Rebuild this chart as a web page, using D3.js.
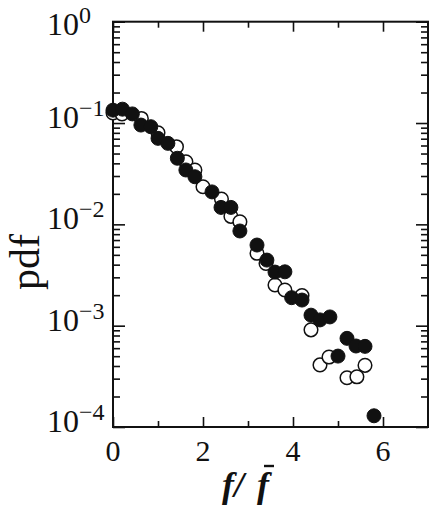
<!DOCTYPE html>
<html>
<head>
<meta charset="utf-8">
<script src="https://cdn.jsdelivr.net/npm/d3@7"></script>
<style>
  body { margin: 0; background: #fff; }
  svg { display: block; }
  .serif { font-family: "Liberation Serif", "DejaVu Serif", serif; fill: #111; }
  .tick line { stroke: #111; stroke-width: 1.6; }
</style>
</head>
<body>
<svg width="438" height="509"></svg>
<script>
// open circles
const openX = [0, 0.2, 0.63, 1.0, 1.41, 1.62, 1.82, 2.0, 2.41, 2.62, 2.82, 3.2, 3.4, 3.6, 3.82, 4.2, 4.4, 4.6, 4.8, 5.2, 5.42, 5.6];
const openY = [0.126, 0.123, 0.111, 0.080, 0.0584, 0.0415, 0.0344, 0.0235, 0.0178, 0.0120, 0.0106, 0.00518, 0.00412, 0.00252, 0.00225, 0.00198, 0.00091, 0.00041, 0.00049, 0.000306, 0.000313, 0.000406];
// filled circles
const fillX = [0, 0.21, 0.43, 0.62, 0.84, 1.0, 1.22, 1.43, 1.62, 1.82, 2.2, 2.4, 2.62, 2.82, 3.2, 3.42, 3.6, 3.82, 3.97, 4.2, 4.4, 4.6, 4.82, 5.0, 5.2, 5.4, 5.6, 5.8];
const fillY = [0.134, 0.137, 0.123, 0.0955, 0.092, 0.0706, 0.063, 0.0449, 0.0344, 0.0295, 0.0209, 0.0147, 0.0147, 0.0086, 0.00625, 0.00444, 0.00338, 0.0034, 0.00189, 0.00179, 0.00127, 0.00114, 0.00122, 0.000501, 0.00075, 0.00063, 0.000625, 0.000129];

const xMajor = [0, 2, 4, 6];
const xMinor = [1, 3, 5];
const yMajor = [1, 0.1, 0.01, 0.001, 0.0001];
const yExp = ["0", "\u22121", "\u22122", "\u22123", "\u22124"];

const svg = d3.select("svg"),
  pLeft = 113, pRight = 428, pTop = 21.7, pBottom = 427;

const x = d3.scaleLinear().domain([0, 7]).range([pLeft, pRight]);
const y = d3.scaleLog().domain([1e-4, 1]).range([pBottom, pTop]);

const yMinor = [];
yMajor.slice(1).forEach(d => { for (let k = 2; k <= 9; k++) yMinor.push(d * k); });

// ticks, all pointing inward
svg.append("g").attr("transform", `translate(0,${pBottom})`)
  .call(d3.axisBottom(x).tickValues(xMajor).tickSize(-10).tickFormat(""));
svg.append("g").attr("transform", `translate(0,${pBottom})`)
  .call(d3.axisBottom(x).tickValues(xMinor).tickSize(-6).tickFormat(""));
svg.append("g").attr("transform", `translate(0,${pTop})`)
  .call(d3.axisTop(x).tickValues(xMajor).tickSize(-10).tickFormat(""));
svg.append("g").attr("transform", `translate(0,${pTop})`)
  .call(d3.axisTop(x).tickValues(xMinor).tickSize(-6).tickFormat(""));
svg.append("g").attr("transform", `translate(${pLeft},0)`)
  .call(d3.axisLeft(y).tickValues(yMajor).tickSize(-12).tickFormat(""));
svg.append("g").attr("transform", `translate(${pLeft},0)`)
  .call(d3.axisLeft(y).tickValues(yMinor).tickSize(-7).tickFormat(""));
svg.append("g").attr("transform", `translate(${pRight},0)`)
  .call(d3.axisRight(y).tickValues(yMajor).tickSize(-12).tickFormat(""));
svg.append("g").attr("transform", `translate(${pRight},0)`)
  .call(d3.axisRight(y).tickValues(yMinor).tickSize(-7).tickFormat(""));
svg.selectAll(".domain").remove();

// frame
svg.append("rect")
  .attr("x", pLeft).attr("y", pTop)
  .attr("width", pRight - pLeft).attr("height", pBottom - pTop)
  .attr("fill", "none").attr("stroke", "#111").attr("stroke-width", 2);

// tick labels
svg.selectAll(".xlab").data(xMajor).join("text")
  .attr("class", "serif")
  .attr("x", d => x(d)).attr("y", pBottom + 34)
  .attr("text-anchor", "middle").attr("font-size", 30)
  .text(d => d);

const ylab = svg.selectAll(".ylab").data(yMajor).join("text")
  .attr("class", "serif")
  .attr("x", 47).attr("y", d => y(d) + (d === 1 ? 13 : 5))
  .attr("font-size", 32);
ylab.append("tspan").text("10");
ylab.append("tspan").attr("dy", -12).attr("font-size", 24).text((d, i) => yExp[i]);

// axis titles
svg.append("text")
  .attr("class", "serif")
  .attr("transform", `translate(39,262) rotate(-90)`)
  .attr("text-anchor", "middle").attr("font-size", 42)
  .text("pdf");

const xt = svg.append("text")
  .attr("class", "serif")
  .attr("x", 222).attr("y", 497)
  .attr("font-size", 36)
  .attr("font-weight", "bold").attr("font-style", "italic");
xt.append("tspan").text("f/");
xt.append("tspan").attr("dx", 13).text("f");
svg.append("line")
  .attr("x1", 264).attr("x2", 274).attr("y1", 466).attr("y2", 466)
  .attr("stroke", "#111").attr("stroke-width", 2.4);

// markers
const pts = svg.append("g");
pts.selectAll(".open").data(openX).join("circle")
  .attr("cx", d => x(d)).attr("cy", (d, i) => y(openY[i]))
  .attr("r", 6.8).attr("fill", "#fff").attr("stroke", "#111").attr("stroke-width", 1.5);
pts.selectAll(".fill").data(fillX).join("circle")
  .attr("cx", d => x(d)).attr("cy", (d, i) => y(fillY[i]))
  .attr("r", 7).attr("fill", "#111").attr("stroke", "#111").attr("stroke-width", 1);
</script>
</body>
</html>
